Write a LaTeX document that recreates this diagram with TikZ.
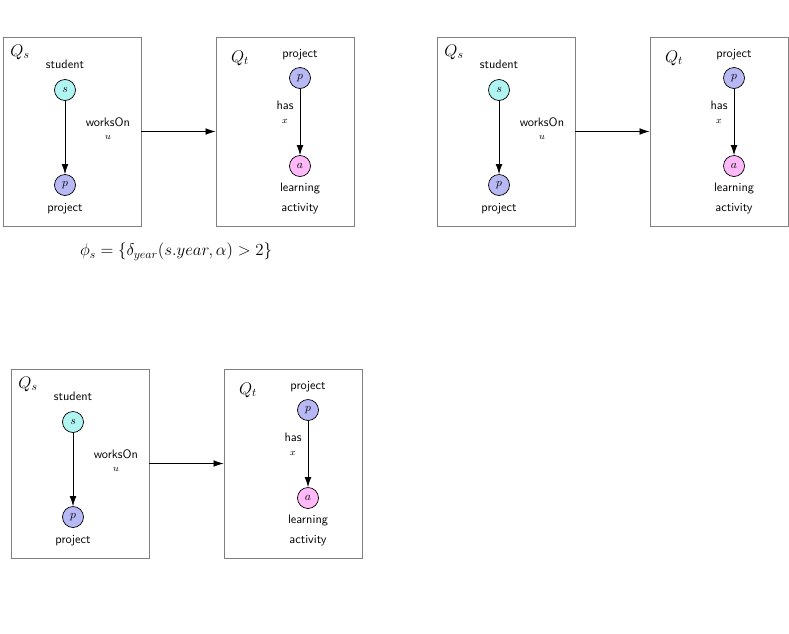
\documentclass[tikz,border=0pt]{standalone}
\usetikzlibrary{arrows.meta}
\definecolor{scol}{HTML}{B0F5F2}
\definecolor{pcol}{HTML}{B8B8F5}
\definecolor{acol}{HTML}{FFB8F8}
\begin{document}
\begin{tikzpicture}
    [
        x=0.03cm, y=-0.03cm,
        qbox/.style = {draw=gray, line width=0.8pt, minimum width=4.14cm, minimum height=5.67cm, inner sep=0pt},
        vert/.style = {draw, circle, line width=0.6pt, minimum size=0.63cm, inner sep=0pt},
        lbl/.style = {font=\sffamily\fontsize{10.5}{12}\selectfont, inner sep=1pt},
        edge/.style = {-{Latex[length=3mm,width=2mm]}, line width=0.6pt},
    ]

    \useasboundingbox (0,0) rectangle (789,633);

    \foreach \ox/\oy/\i in {0/0/1, 434/0/2, 8/332/3}
    {
        % source query
        \node[qbox] (qs\i) at (72+\ox,131.5+\oy) {};
        \node[font=\Large] (qsname\i) at (20+\ox,52+\oy) {$Q_s$};
        \node[lbl] (stud\i) at (65+\ox,64+\oy) {student};
        \node[vert, fill=scol] (s\i) at (65+\ox,90+\oy) {$s$};
        \node[vert, fill=pcol] (p\i) at (65+\ox,185+\oy) {$p$};
        \node[lbl] (proj\i) at (65+\ox,209+\oy) {project};
        \node[lbl] (works\i) at (108+\ox,122+\oy) {worksOn};
        \node[inner sep=0pt] (u\i) at (108+\ox,137+\oy) {\footnotesize $u$};
        \draw[edge] (s\i) -- (p\i);

        % target query
        \node[qbox] (qt\i) at (285+\ox,131.5+\oy) {};
        \node[font=\Large] (qtname\i) at (240+\ox,58+\oy) {$Q_t$};
        \node[lbl] (tproj\i) at (300+\ox,55+\oy) {project};
        \node[vert, fill=pcol] (tp\i) at (300+\ox,78+\oy) {$p$};
        \node[vert, fill=acol] (ta\i) at (300+\ox,166+\oy) {$a$};
        \node[lbl] (learn\i) at (300+\ox,188+\oy) {learning};
        \node[lbl] (act\i) at (300+\ox,209+\oy) {activity};
        \node[lbl] (has\i) at (285+\ox,105+\oy) {has};
        \node[inner sep=0pt] (x\i) at (285+\ox,121+\oy) {\footnotesize $x$};
        \draw[edge] (tp\i) -- (ta\i);

        \draw[edge] (qs\i) -- (qt\i);
    }

    \node[font=\Large] (phi) at (176,252) {$\phi_s = \{\delta_{year}(s.year,\alpha) > 2\}$};

\end{tikzpicture}
\end{document}
